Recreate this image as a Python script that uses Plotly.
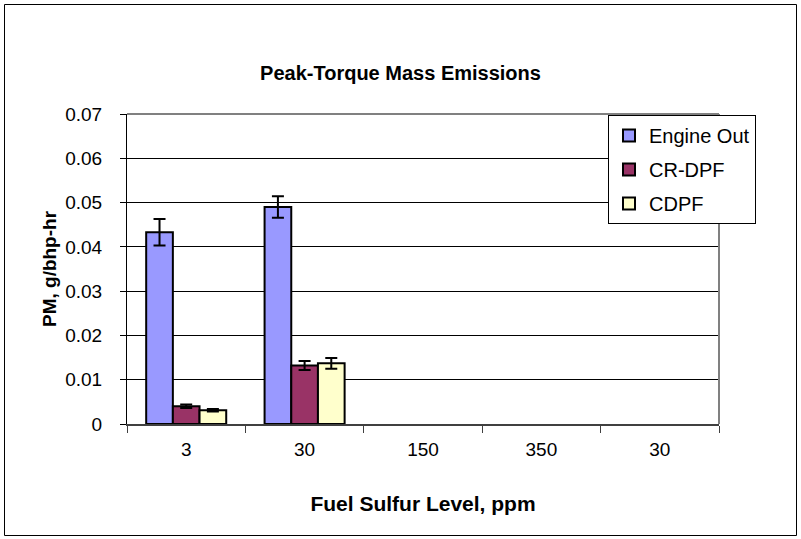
import plotly.graph_objects as go

categories = ["3", "30", "150", "350", "30"]
engine_out = [0.0433, 0.0490, None, None, None]
engine_out_err = [0.0030, 0.0024, None, None, None]
cr_dpf = [0.0040, 0.0132, None, None, None]
cr_dpf_err = [0.0004, 0.0010, None, None, None]
cdpf = [0.0031, 0.0137, None, None, None]
cdpf_err = [0.0003, 0.0012, None, None, None]

x_pos = list(range(len(categories)))
FONT = "Liberation Sans, Arial, sans-serif"

W, H = 801, 539
L, R, T, B = 127, 719, 114, 424  # plot area in pixels


def px(X):
    return (X - L) / (R - L)


def py(Y):
    return (B - Y) / (B - T)


fig = go.Figure()
series = [
    ("Engine Out", engine_out, engine_out_err, "#9999FF"),
    ("CR-DPF", cr_dpf, cr_dpf_err, "#993366"),
    ("CDPF", cdpf, cdpf_err, "#FFFFCC"),
]
for name, vals, errs, color in series:
    fig.add_trace(go.Bar(
        x=x_pos, y=vals, name=name, legendgroup=name,
        marker=dict(color=color, line=dict(color="black", width=2)),
        error_y=dict(type="data", array=errs, visible=True, color="black",
                     thickness=2, width=6),
    ))

fig.update_layout(
    width=W, height=H,
    margin=dict(l=L, r=W - R, t=T, b=H - B, pad=0),
    paper_bgcolor="white", plot_bgcolor="white",
    barmode="group", bargap=0.324, bargroupgap=0,
    font=dict(family=FONT, color="black", size=19),
    title=dict(text="<b>Peak-Torque Mass Emissions</b>", x=0.5, xref="container",
               xanchor="center", y=1 - 73 / H, yanchor="middle",
               font=dict(size=20, family=FONT, color="black")),
    showlegend=True,
    legend=dict(x=px(608), y=py(115), xanchor="left", yanchor="top",
                bordercolor="black", borderwidth=1, bgcolor="white",
                font=dict(size=20, family=FONT), tracegroupgap=5,
                itemsizing="constant"),
    xaxis=dict(range=[-0.5, len(categories) - 0.5], tickvals=x_pos,
               ticktext=categories, ticks="", showgrid=False, zeroline=False,
               showline=True, linecolor="#404040", linewidth=2,
               ticklabelstandoff=7,
               minor=dict(tickvals=[i - 0.5 for i in range(len(categories) + 1)],
                          ticks="outside", ticklen=7, tickcolor="#404040",
                          tickwidth=1, showgrid=False),
               title=dict(text="<b>Fuel Sulfur Level, ppm</b>", standoff=38,
                          font=dict(size=21, family=FONT))),
    yaxis=dict(range=[0, 0.07], dtick=0.01, tick0=0, showgrid=True,
               gridcolor="black", gridwidth=1, zeroline=False,
               showline=True, linecolor="black", linewidth=1,
               ticks="outside", ticklen=6, tickcolor="black",
               ticklabelstandoff=14,
               title=dict(text="<b>PM, g/bhp-hr</b>", standoff=3,
                          font=dict(size=19, family=FONT))),
)

# plot area border (gray top and right)
fig.add_shape(type="line", xref="paper", yref="paper", x0=0, x1=1, y0=1, y1=1,
              line=dict(color="#808080", width=2), layer="above")
fig.add_shape(type="line", xref="paper", yref="paper", x0=1, x1=1, y0=0, y1=1,
              line=dict(color="#808080", width=2), layer="above")
# outer chart border
fig.add_shape(type="rect", xref="paper", yref="paper",
              x0=px(4.5), x1=px(796.5), y0=py(535.5), y1=py(4.5),
              line=dict(color="black", width=1), layer="below")

fig.write_html("out.html",
               config={"displayModeBar": False},
               post_script="document.body.style.margin='0';"
                           "document.body.style.overflow='hidden';")
